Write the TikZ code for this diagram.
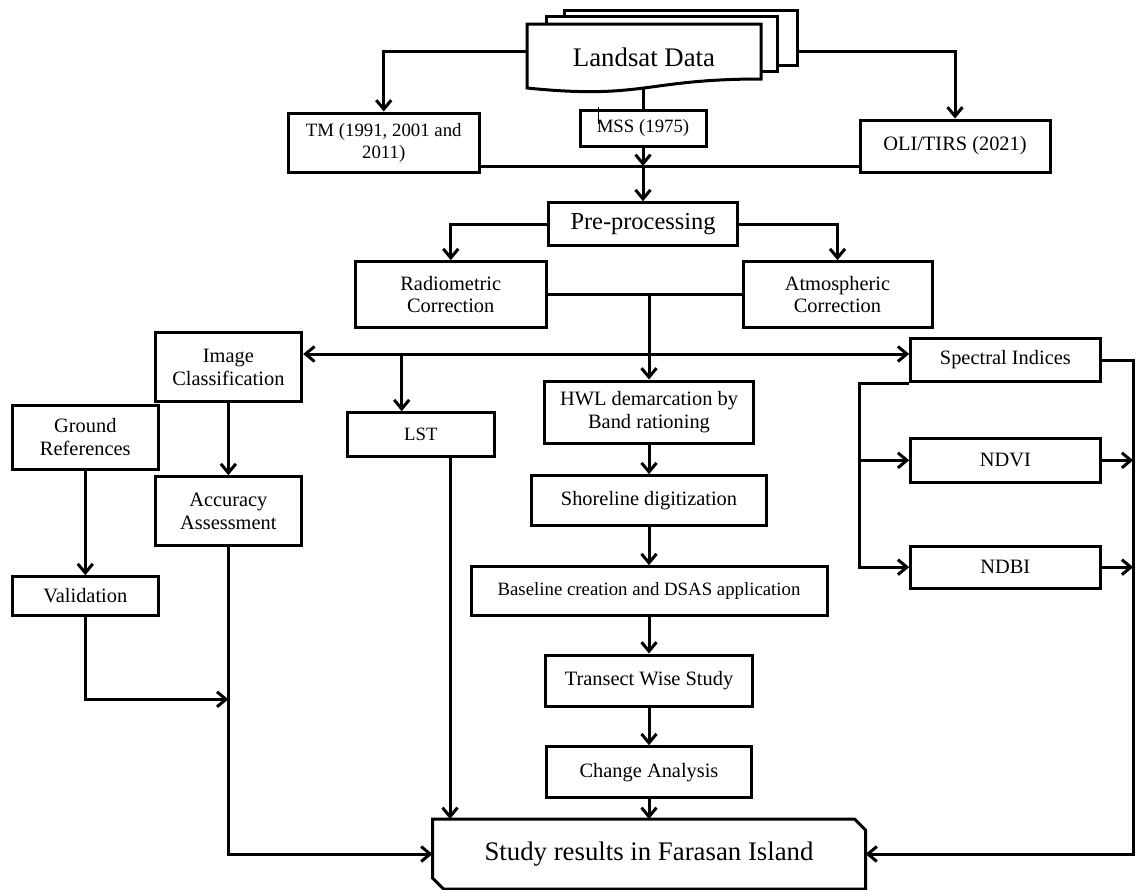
\documentclass[tikz,border=0pt]{standalone}
\usepackage{fontspec}
\setmainfont{Liberation Serif}
\usepackage{tikz}
\usetikzlibrary{arrows.meta}

\begin{document}
\begin{tikzpicture}[x=0.5pt,y=-0.5pt,line width=1.5pt,
                    >={Straight Barb[length=4.5pt,width=7.5pt]},
                    box/.style={draw,fill=white,inner sep=2pt,align=center,
                                font=\fontsize{10.2}{11.3}\selectfont},
                    smalltext/.style={font=\fontsize{9.4}{11}\selectfont},
                    bigtext/.style={font=\fontsize{13.4}{16}\selectfont},
                    flow/.style={->}]
  \useasboundingbox (0,0) rectangle (1140,889);

  % stacked Landsat pages
  \draw[fill=white] (564,10) rectangle (797.5,65);
  \draw[fill=white] (546,16.7) rectangle (777,71);
  \draw[fill=white] (527,24) -- (761,24) -- (761,79)
        .. controls (644,79) and (644,99.9) .. (527,88) -- cycle;
  \node[bigtext] (landsat) at (644,57.5) {Landsat Data};
  \coordinate (docL) at (527,51);
  \coordinate (docR) at (797.5,51);
  \coordinate (docB) at (643,88);

  \node[box,smalltext,minimum width=95.75pt,minimum height=29.85pt] (tm)  at (383.75,142.85) {TM (1991, 2001 and\\2011)};
  \node[box,smalltext,minimum width=63pt,minimum height=18pt]       (mss) at (643,128)        {MSS (1975)};
  \node[box,minimum width=95pt,minimum height=26pt]                 (oli) at (955,146)        {OLI/TIRS (2021)};
  \draw[line width=0.4pt] (598.5,107) -- (598.5,124);

  \node[box,font=\fontsize{12.2}{14}\selectfont,minimum width=94.5pt,minimum height=21.5pt] (pre) at (643,224.2) {Pre-processing};
  \node[box,minimum width=95.25pt,minimum height=32.8pt] (radio) at (450.75,294.5) {Radiometric\\Correction};
  \node[box,minimum width=94.5pt,minimum height=32.8pt]  (atmos) at (837.5,294.5)  {Atmospheric\\Correction};

  % left branch
  \node[box,minimum width=73.35pt,minimum height=34.5pt] (imgcls) at (228.35,367.2) {Image\\Classification};
  \node[box,minimum width=73pt,minimum height=32pt]      (ground) at (85.3,437)     {Ground\\References};
  \node[box,minimum width=73.35pt,minimum height=34.5pt] (accur)  at (228.35,511.2) {Accuracy\\Assessment};
  \node[box,minimum width=73pt,minimum height=19.15pt]   (valid)  at (85.3,595.85)  {Validation};
  \node[box,smalltext,minimum width=73.15pt,minimum height=21.65pt] (lst) at (420.85,434.35) {LST};

  % shoreline column
  \node[box,minimum width=104.15pt,minimum height=31.15pt] (hwl)      at (649,412.15) {HWL demarcation by\\Band rationing};
  \node[box,minimum width=117.5pt,minimum height=24.65pt]  (shore)    at (649,500.35) {Shoreline digitization};
  \node[box,smalltext,minimum width=178pt,minimum height=24.15pt] (baseline) at (649,590.85) {Baseline creation and DSAS application};
  \node[box,minimum width=103.3pt,minimum height=25.5pt]   (transect) at (649,680.5)  {Transect Wise Study};
  \node[box,minimum width=102.85pt,minimum height=25.5pt]  (change)   at (649,772.2)  {Change Analysis};

  % indices
  \node[box,minimum width=94.65pt,minimum height=21.7pt] (spectral) at (1005.35,360)    {Spectral Indices};
  \node[box,minimum width=94.65pt,minimum height=22pt]   (ndvi)     at (1005.35,460.3)  {NDVI};
  \node[box,minimum width=94.65pt,minimum height=21.15pt](ndbi)     at (1005.35,567.15) {NDBI};

  % results
  \node[bigtext,minimum width=215pt,minimum height=33.5pt,inner sep=0pt] (study) at (649,854) {Study results in Farasan Island};
  \draw (study.north west) -- ([xshift=-5.5pt]study.north east) -- ([yshift=-5.5pt]study.north east)
        -- (study.south east) -- ([xshift=5.5pt]study.south west) -- ([yshift=5.5pt]study.south west) -- cycle;

  \coordinate (merge)  at (643,166);
  \coordinate (hub)    at (649,354);
  \coordinate (lstin)  at (401.7,354);
  \coordinate (lstout) at (450,0);
  \coordinate (valjoin) at (0,699.3);

  \draw[flow] (docL) -| (tm.north);
  \draw[flow] (docR) -| (oli.north);
  \draw (docB) -- (mss.north);
  \draw (tm.east |- merge) -- (oli.west |- merge);
  \draw[flow] (mss.south) -- (merge);
  \draw[flow] (merge) -- (pre.north);
  \draw[flow] (pre.west) -| (radio.north);
  \draw[flow] (pre.east) -| (atmos.north);
  \draw (radio.east) -- (atmos.west);
  \draw[flow] (hwl.north |- radio.east) -- (hwl.north);
  \draw[flow] (hub) -- (imgcls.east |- hub);
  \draw[flow] (hub) -- (spectral.west |- hub);
  \draw[flow] (lstin) -- (lstin |- lst.north);

  \draw[flow] (imgcls) -- (accur);
  \draw[flow] (ground) -- (valid);
  \draw[flow] (valid.south) |- (accur.south |- valjoin);
  \draw[flow] (accur.south) |- (study.west);
  \draw[flow] (lst.south -| lstout) -- (study.north -| lstout);

  \draw[flow] (hwl) -- (shore);
  \draw[flow] (shore) -- (baseline);
  \draw[flow] (baseline) -- (transect);
  \draw[flow] (transect) -- (change);
  \draw[flow] (change) -- (study);

  \draw[flow] (spectral.south west) -- ++(-50,0) |- (ndbi.west);
  \draw[flow] (spectral.south west) ++(-50,0) |- (ndvi.west);
  \draw[flow] (spectral.east) -- ++(31.7,0) |- (study.east);
  \draw[flow] (ndvi.east) -- ++(31.7,0);
  \draw[flow] (ndbi.east) -- ++(31.7,0);
\end{tikzpicture}
\end{document}
